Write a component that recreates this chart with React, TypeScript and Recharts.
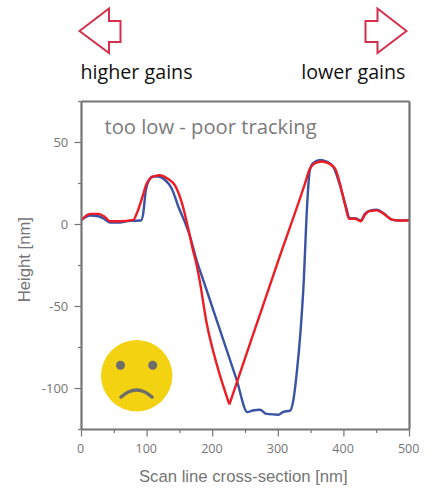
import React from "react";
import { LineChart, Line, XAxis, YAxis } from "recharts";

const blueX = [0,13,26,36,43.5,58,74,90.7,94,98,103,109,117,127,137.5,147,165,175.6,185.5,211,236.5,253,261,272,282,300,307.6,318,323,328,334,339,343,348,353,363.5,373.6,384,394,402,409,417,425.6,432,440,450,460,473,485.5,500];
const blueY = [2.8,5.5,5,3,1.2,1.2,2.2,2.4,6.5,20.7,27,29.3,29.3,27.3,22,11.6,-6.7,-22,-33.8,-64.2,-94.7,-114.4,-113.4,-113,-115.5,-116,-114.3,-113.5,-107,-91,-64.6,-33,4.5,33,37.4,39.4,38.4,35,23.8,12.6,3.9,3.9,2.4,6.5,8.5,9,7,3,2.4,2.8];
const redDownX = [0,13,26,36,43.5,58,79,84,92,99.4,106,118.6,132,142.5,152.7,165,170,174,179.6,190.9,206,225.4];
const redDownY = [2.8,6.5,6.5,4.5,2,2,2.8,6.5,15.7,25,28.5,30,27.8,23.8,13.6,-6.7,-15.8,-22,-33,-60.4,-85,-109.7];
const redUpX = [225.4,264.5,300,340.7,348,356,366,376,386.6,394,402,408,417,425.6,432,440,450,460,473,485.5,500];
const redUpY = [-109.7,-63.7,-22,25,34,37.4,38.4,37.4,34,24.8,11.6,3.5,3.5,2,6,8.3,8.6,6.7,3,2.4,2.4];
const blueData = blueX.map((x, i) => ({ x, y: blueY[i] }));
const redDownData = redDownX.map((x, i) => ({ x, y: redDownY[i] }));
const redUpData = redUpX.map((x, i) => ({ x, y: redUpY[i] }));
const xTicks = [0,50,100,150,200,250,300,350,400,450,500];
const yTicks = [75,50,25,0,-25,-50,-75,-100,-125];
const yLabelled = [50,0,-50,-100];
const xLabelled = [0,100,200,300,400,500];
const AX = "#757575";
const LBL = "#757575";
const TITLEF = "'Liberation Sans', Arial, sans-serif";
const TEXTF = "'Open Sans', 'Noto Sans', sans-serif";

const BottomTick = (p: any) => {
  const major = xLabelled.includes(p.payload.value);
  return (
    <g>
      <line x1={p.x} x2={p.x} y1={429.5} y2={429.5 + (major ? 7 : 3.5)} stroke={AX} strokeWidth={1.2} />
      {major && <text x={p.x - (p.payload.value === 0 ? 1 : 0.8)} y={452.7} textAnchor="middle" fontSize={12.5} fontWeight={500} fill={LBL} fontFamily={TEXTF}>{p.payload.value}</text>}
    </g>
  );
};
const TopTick = (p: any) => {
  const major = xLabelled.includes(p.payload.value);
  return <line x1={p.x} x2={p.x} y1={101.5} y2={101.5 + (major ? 7 : 3.5)} stroke={AX} strokeWidth={1.2} />;
};
const LeftTick = (p: any) => {
  const major = yLabelled.includes(p.payload.value);
  return (
    <g>
      <line x1={81.5} x2={81.5 - (major ? 7 : 3.5)} y1={p.y} y2={p.y} stroke={AX} strokeWidth={1.2} />
      {major && <text x={68.3} y={p.y + 4.8} textAnchor="end" fontSize={13} fontWeight={500} fill={LBL} fontFamily={TEXTF}>{p.payload.value}</text>}
    </g>
  );
};
const RightTick = (p: any) => {
  const major = yLabelled.includes(p.payload.value);
  return <line x1={409.5} x2={409.5 - (major ? 7 : 3.5)} y1={p.y} y2={p.y} stroke={AX} strokeWidth={1.2} />;
};
const axisLine = { stroke: AX, strokeWidth: 2.2 };

export default function App() {
  return (
    <div style={{ position: "absolute", left: 0, top: 0, width: 437, height: 490 }}>
      <LineChart width={437} height={490} margin={{ top: 71.5, left: 41.5, right: 26.5, bottom: 30.5 }}>
        <XAxis xAxisId="b" dataKey="x" type="number" domain={[0, 500]} ticks={xTicks} interval={0} height={30} axisLine={axisLine} tickLine={false} tick={BottomTick} />
        <XAxis xAxisId="t" orientation="top" dataKey="x" type="number" domain={[0, 500]} ticks={xTicks} interval={0} height={30} axisLine={axisLine} tickLine={false} tick={TopTick} />
        <YAxis yAxisId="l" dataKey="y" type="number" domain={[-125, 75]} ticks={yTicks} interval={0} width={40} axisLine={axisLine} tickLine={false} tick={LeftTick} />
        <YAxis yAxisId="r" orientation="right" dataKey="y" type="number" domain={[-125, 75]} ticks={yTicks} interval={0} width={1} axisLine={axisLine} tickLine={false} tick={RightTick} />
        <Line xAxisId="b" yAxisId="l" data={blueData} dataKey="y" type="monotone" stroke="#3a53a4" strokeWidth={2.4} dot={false} isAnimationActive={false} />
        <Line xAxisId="b" yAxisId="l" data={redDownData} dataKey="y" type="monotone" stroke="#ee1c25" strokeWidth={2.4} dot={false} isAnimationActive={false} />
        <Line xAxisId="b" yAxisId="l" data={redUpData} dataKey="y" type="monotone" stroke="#ee1c25" strokeWidth={2.4} dot={false} isAnimationActive={false} />
      </LineChart>
      <svg width={437} height={490} style={{ position: "absolute", left: 0, top: 0, pointerEvents: "none" }}>
        <polygon points="79.5,31 109,8.5 109,21 120.5,21 120.5,42 109,42 109,53" fill="none" stroke="#d62f4c" strokeWidth={2} />
        <polygon points="406.5,31 377.5,8.5 377.5,21 365.5,21 365.5,42 377.5,42 377.5,53" fill="none" stroke="#d62f4c" strokeWidth={2} />
        <text x={80.5} y={79} fontSize={19.7} fill="#111" fontFamily={TEXTF}>higher gains</text>
        <text x={405.5} y={79} fontSize={19.7} textAnchor="end" fill="#111" fontFamily={TEXTF}>lower gains</text>
        <text x={104.5} y={134} fontSize={20.2} fill="#7a7a7a" fontFamily={TEXTF}>too low - poor tracking</text>
        <text x={243.3} y={481.5} fontSize={16.7} textAnchor="middle" fill={LBL} fontFamily={TITLEF}>Scan line cross-section [nm]</text>
        <text transform="translate(30,259.7) rotate(-90)" fontSize={16.7} textAnchor="middle" fill={LBL} fontFamily={TITLEF}>Height [nm]</text>
        <circle cx={136.7} cy={375.7} r={35.7} fill="#f2d211" />
        <circle cx={120.5} cy={365.3} r={4.5} fill="#6d6d6d" />
        <circle cx={152.7} cy={365.3} r={4.5} fill="#6d6d6d" />
        <path d="M121,397 Q136.7,383 152,397" fill="none" stroke="#6d6d6d" strokeWidth={3.5} strokeLinecap="round" />
      </svg>
    </div>
  );
}
